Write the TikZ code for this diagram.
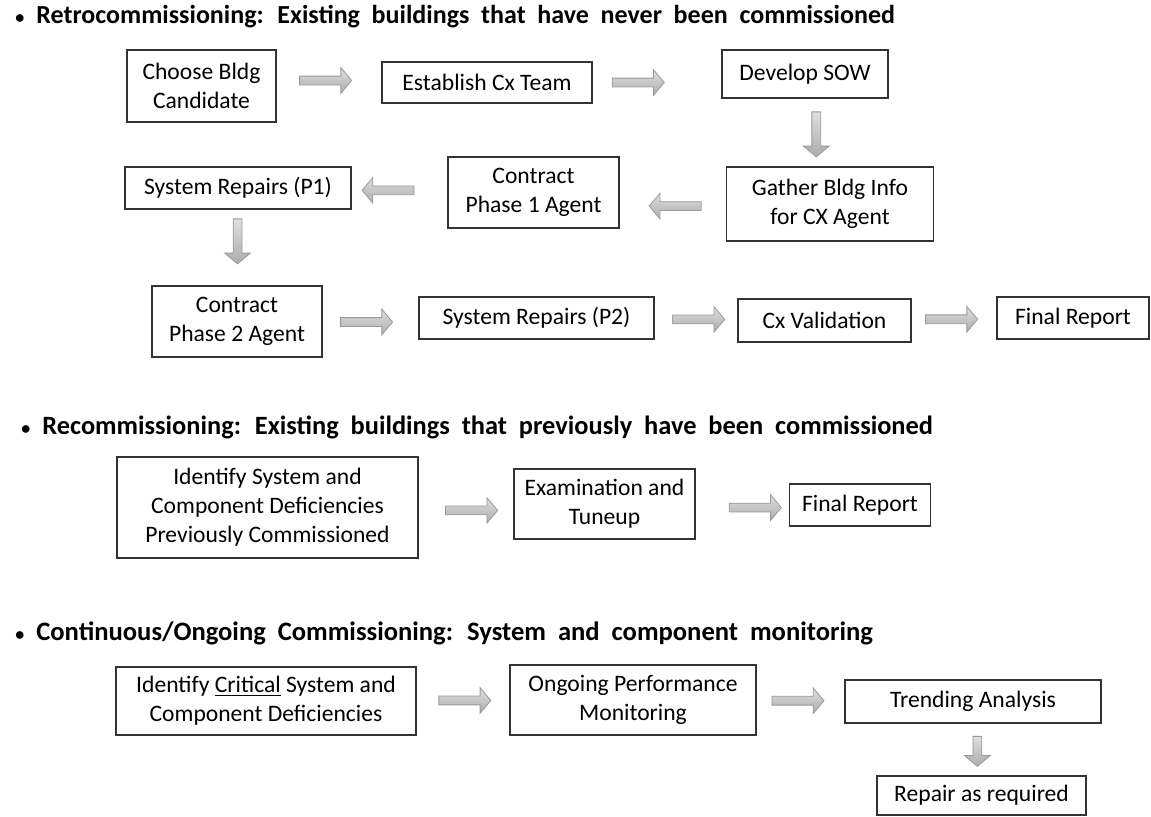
\documentclass[tikz,border=0pt]{standalone}
\usepackage{fontspec}
\setmainfont{Carlito}
\usetikzlibrary{positioning}
\usetikzlibrary{shapes.arrows}

\newcommand{\headfont}{\bfseries\setlength{\spaceskip}{0.45em}}
\newcommand{\headdot}{{\fontsize{9}{9}\selectfont\textbullet}\hspace{6pt}}

\begin{document}
\begin{tikzpicture}[x = 0.5pt, y = -0.5pt,
    stepbox/.style = {draw = black!80, line width = 0.6pt, align = center, inner sep = 2pt, font = \fontsize{11.8}{14.5}\selectfont},
    heading/.style = {anchor = west, inner sep = 0pt, font = \fontsize{13}{15}\selectfont\headfont},
    flow/.style = {shape = single arrow, draw = gray!80, top color = gray!25, bottom color = gray!65, minimum height = 26pt, inner xsep = 0pt, inner ysep = 2pt, single arrow head extend = 4.2pt, single arrow tip angle = 100, line width = 0.4pt},
    rflow/.style = {flow},
    lflow/.style = {flow, rotate = 180},
    dflow/.style = {flow, rotate = -90, minimum height = 22.5pt},
    ]
    \useasboundingbox (0, 0) rectangle (1151, 816);

    % Retrocommissioning
    \node[heading] (retro) at (15, 17) {\headdot Retrocommissioning: Existing buildings that have never been commissioned};

    \node[stepbox, minimum width = 74.5pt, minimum height = 36pt] (choose) at (201.5, 86) {Choose Bldg\\Candidate};
    \node[stepbox, minimum width = 105pt, minimum height = 20.5pt] (team) at (487, 82.5) {Establish Cx Team};
    \node[stepbox, minimum width = 83pt, minimum height = 24pt] (sow) at (805, 74) {Develop SOW};
    \node[stepbox, minimum width = 103.5pt, minimum height = 37pt] (gather) at (830, 204) {Gather Bldg Info\\for CX Agent};
    \node[stepbox, minimum width = 85.5pt, minimum height = 35.5pt] (phaseone) at (533.5, 192.5) {Contract\\Phase 1 Agent};
    \node[stepbox, minimum width = 113pt, minimum height = 21pt] (repone) at (238, 188) {System Repairs (P1)};
    \node[stepbox, minimum width = 85pt, minimum height = 35.5pt] (phasetwo) at (237, 321.5) {Contract\\Phase 2 Agent};
    \node[stepbox, minimum width = 117.5pt, minimum height = 21pt] (reptwo) at (536.5, 318) {System Repairs (P2)};
    \node[stepbox, minimum width = 86.5pt, minimum height = 21.5pt] (valid) at (824.5, 320.5) {Cx Validation};
    \node[stepbox, minimum width = 76pt, minimum height = 21pt] (finalone) at (1073, 318) {Final Report};

    \path (choose) -- node[rflow, pos = 0.45, yshift = 2pt] (a1) {} (team);
    \path (team) -- node[rflow, pos = 0.34, yshift = -2pt] (a2) {} (sow);
    \path (sow) -- node[dflow] (a3) {} (gather);
    \path (gather) -- node[lflow, pos = 0.46, yshift = 4pt] (a4) {} (phaseone);
    \path (phaseone) -- node[lflow, pos = 0.6] (a5) {} (repone);
    \path (repone) -- node[dflow, xshift = -4pt] (a6) {} (phasetwo);
    \path (phasetwo) -- node[rflow, pos = 0.44, yshift = -1pt] (a7) {} (reptwo);
    \path (reptwo) -- node[rflow, pos = 0.51] (a8) {} (valid);
    \path (valid) -- node[rflow, pos = 0.45] (a9) {} (finalone);

    % Recommissioning
    \node[heading, font = \fontsize{13.2}{15}\selectfont\headfont] (recomm) at (21, 427) {\headdot Recommissioning: Existing buildings that previously have been commissioned};

    \node[stepbox, minimum width = 150.5pt, minimum height = 50.5pt] (identify) at (267.5, 507.5) {Identify System and\\Component Deficiencies\\Previously Commissioned};
    \node[stepbox, minimum width = 90.5pt, minimum height = 35pt] (exam) at (604.5, 504) {Examination and\\Tuneup};
    \node[stepbox, minimum width = 70.5pt, minimum height = 21pt] (finaltwo) at (860, 505) {Final Report};

    \path (identify) -- node[rflow, pos = 0.54, yshift = -2.5pt] (b1) {} (exam);
    \path (exam) -- node[rflow, pos = 0.62, yshift = -1.5pt] (b2) {} (finaltwo);

    % Continuous/Ongoing
    \node[heading, font = \fontsize{13.3}{15}\selectfont\headfont] (ongo) at (15, 633) {\headdot Continuous/Ongoing Commissioning: System and component monitoring};

    \node[stepbox, minimum width = 150pt, minimum height = 34pt] (critical) at (266, 701) {Identify \underline{Critical} System and\\Component Deficiencies};
    \node[stepbox, minimum width = 123pt, minimum height = 35pt] (ongoing) at (633, 700) {Ongoing Performance\\Monitoring};
    \node[stepbox, minimum width = 128pt, minimum height = 21.5pt] (trend) at (973, 701.5) {Trending Analysis};
    \node[stepbox, minimum width = 104.5pt, minimum height = 19.5pt] (repair) at (981.5, 795.5) {Repair as required};

    \path (critical) -- node[rflow, pos = 0.5] (c1) {} (ongoing);
    \path (ongoing) -- node[rflow, pos = 0.45] (c2) {} (trend);
    \path (trend) -- node[dflow, minimum height = 15pt] (c3) {} (repair);
\end{tikzpicture}
\end{document}
